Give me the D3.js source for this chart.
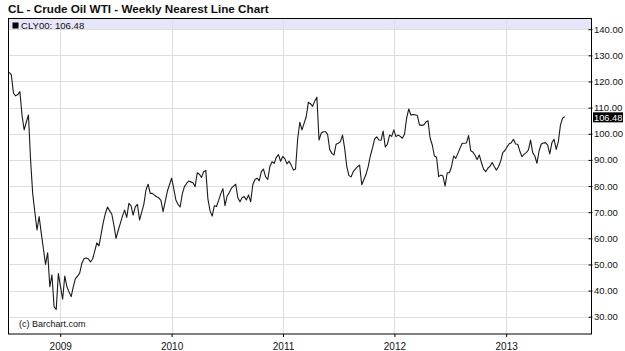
<!DOCTYPE html>
<html>
<head>
<meta charset="utf-8">
<script src="https://cdn.jsdelivr.net/npm/d3@7"></script>
<style>
  body { margin: 0; background: #fff; }
  text { font-family: "Liberation Sans", Arial, sans-serif; }
</style>
</head>
<body>
<div id="chart"></div>
<script>
// data
const symbol = "CLY00";
const lastClose = 106.48;
const firstWeek = "2008-07-18"; // weekly closes, one per friday from here
const closes = [
  123.5, 122.5, 115.5, 114.5, 115, 116.1, 107, 101.5, 104.5, 107.2,
  90, 77, 70, 63.2, 68.3, 62, 56, 50, 54.5, 41.5,
  46, 33.8, 32.8, 46.5, 41.5, 36.7, 45.6, 41.5, 39.5, 37.7,
  41.5, 44.7, 45.5, 46.8, 50.5, 52.2, 52.5, 52.2, 51, 52,
  55, 58.3, 57.1, 61.5, 66, 69.5, 72, 70.5, 69.3, 65,
  60, 63, 65.7, 68.5, 70.8, 68, 73.4, 72.5, 68.9, 72,
  73, 67, 70, 73, 78.5, 80.7, 77.2, 77.2, 76.5, 75.9,
  75.5, 74.5, 70.2, 74, 78, 80.5, 83, 79, 74.7, 73,
  72, 77, 79.8, 81, 81.9, 81.6, 81.3, 79.8, 85.1, 84.5,
  83.3, 85.5, 86, 75, 70.5, 68.5, 72.5, 72.2, 74.5, 77,
  79, 72.5, 76.2, 77.5, 79.2, 80, 80.7, 75.5, 74, 75.5,
  76, 74.7, 76.6, 74, 80.5, 82.5, 83, 82, 85.5, 86.5,
  83.5, 82.5, 87.5, 89.3, 88.7, 91, 92, 89.5, 91.3, 90.5,
  88.5, 89.5, 88, 86.1, 86.5, 98, 104.4, 101.5, 104, 106.5,
  112, 111.5, 110.5, 112.5, 114, 97.6, 100.2, 100.8, 100.8, 99.8,
  94, 92.5, 91.9, 96, 96.4, 97, 99.5, 94.4, 87.4, 84,
  83.5, 85.5, 86.5, 87.4, 88, 80.5, 82.5, 84.5, 87.4, 91.5,
  94.5, 98, 98.8, 97.6, 97.5, 101, 95, 96, 99.5, 99,
  101.5, 98.9, 99.5, 99, 98.3, 99.8, 106, 109.5, 107.2, 107.4,
  107.3, 107, 103.4, 103.2, 103.4, 104.5, 105, 98.3, 95.7, 91.5,
  91, 83.6, 84.2, 83.8, 80, 85.1, 85.1, 87.4, 91.5, 90.6,
  92.5, 94.5, 96.4, 96.4, 96.5, 99.3, 93.5, 93, 91.8, 90.2,
  91.9, 89, 86.5, 85.5, 86.8, 87.5, 89, 87.5, 86.1, 87.4,
  89.5, 92.8, 93.6, 95, 96.2, 96.6, 97.9, 96.1, 96, 93.3,
  91.2, 92.2, 92.8, 93.8, 97.6, 92.8, 91.5, 88.7, 93.5, 96.1,
  96.5, 96.6, 95.7, 92.3, 96.6, 97.9, 94, 97, 103.4, 106,
  106.48
];
const priceTicks = [30, 40, 50, 60, 70, 80, 90, 100, 110, 120, 130, 140];
const yearTicks = ["2009", "2010", "2011", "2012", "2013"];

//size
const width = 625;
const height = 351;
const plot = { left: 8, right: 591, top: 18.5, bottom: 334 };

const parse = d3.timeParse("%Y-%m-%d");
const start = parse(firstWeek);
const series = closes.map((v, i) => ({ date: d3.timeWeek.offset(start, i), value: v }));

//scales
const xScale = d3
  .scaleTime()
  .domain([new Date(2008, 6, 14), new Date(2013, 9, 6)])
  .range([plot.left, plot.right]);

const yScale = d3.scaleLinear().domain([23.4, 144.1]).range([plot.bottom, plot.top]);

const svg = d3
  .select("#chart")
  .append("svg")
  .attr("width", width)
  .attr("height", height);

// title
svg
  .append("text")
  .attr("x", 8)
  .attr("y", 12.5)
  .attr("font-size", 11.7)
  .attr("font-weight", "bold")
  .attr("fill", "#111")
  .text("CL - Crude Oil WTI - Weekly Nearest Line Chart");

// legend band
svg
  .append("rect")
  .attr("x", plot.left)
  .attr("y", plot.top)
  .attr("width", plot.right - plot.left)
  .attr("height", yScale(140) - plot.top)
  .attr("fill", "#e7e5fa");

// grid
svg
  .append("g")
  .attr("stroke", "#dedede")
  .attr("stroke-width", 1)
  .call((g) => {
    g.selectAll("line.h")
      .data(priceTicks)
      .join("line")
      .attr("class", "h")
      .attr("x1", plot.left)
      .attr("x2", plot.right)
      .attr("y1", (d) => Math.round(yScale(d)) + 0.5)
      .attr("y2", (d) => Math.round(yScale(d)) + 0.5);
    g.selectAll("line.v")
      .data(yearTicks)
      .join("line")
      .attr("class", "v")
      .attr("x1", (d) => Math.round(xScale(parse(d + "-01-01"))) + 0.5)
      .attr("x2", (d) => Math.round(xScale(parse(d + "-01-01"))) + 0.5)
      .attr("y1", plot.top)
      .attr("y2", plot.bottom);
  });

// legend
svg
  .append("rect")
  .attr("x", 12.5)
  .attr("y", 22.5)
  .attr("width", 6)
  .attr("height", 6)
  .attr("fill", "#000");
svg
  .append("text")
  .attr("x", 21)
  .attr("y", 28.5)
  .attr("font-size", 9.6)
  .attr("fill", "#111")
  .text(`${symbol}: ${lastClose.toFixed(2)}`);

// price line
svg
  .append("path")
  .datum(series)
  .attr("fill", "none")
  .attr("stroke", "#1a1a1a")
  .attr("stroke-width", 1.1)
  .attr("stroke-linejoin", "round")
  .attr(
    "d",
    d3
      .line()
      .x((d) => xScale(d.date))
      .y((d) => yScale(d.value))
  );

// watermark
svg
  .append("text")
  .attr("x", 19)
  .attr("y", 326.5)
  .attr("font-size", 9)
  .attr("fill", "#111")
  .text("(c) Barchart.com");

// frame
svg
  .append("rect")
  .attr("x", plot.left + 0.5)
  .attr("y", plot.top)
  .attr("width", plot.right - plot.left)
  .attr("height", plot.bottom - plot.top)
  .attr("fill", "none")
  .attr("stroke", "#000")
  .attr("stroke-width", 1);

// right axis
svg
  .append("g")
  .attr("transform", `translate(${plot.right + 0.5},0)`)
  .call(
    d3
      .axisRight(yScale)
      .tickValues(priceTicks)
      .tickSize(1)
      .tickPadding(1.5)
      .tickFormat(d3.format(".2f"))
  )
  .call((g) => {
    g.select(".domain").remove();
    g.selectAll("line").attr("x1", -3).attr("stroke", "#000");
    g.selectAll("text").attr("font-size", 9.5).attr("fill", "#111").attr("font-family", null);
  });

// last price tag
const tagY = yScale(lastClose);
svg
  .append("rect")
  .attr("x", 593)
  .attr("y", tagY - 4.5)
  .attr("width", 30)
  .attr("height", 10)
  .attr("fill", "#000");
svg
  .append("text")
  .attr("x", 594)
  .attr("y", tagY + 3.8)
  .attr("font-size", 9.3)
  .attr("fill", "#fff")
  .text(lastClose.toFixed(2));

// bottom axis
svg
  .append("g")
  .attr("transform", `translate(0,${plot.bottom})`)
  .call(
    d3
      .axisBottom(xScale)
      .tickValues(yearTicks.map((d) => parse(d + "-01-01")))
      .tickSize(3)
      .tickPadding(6)
      .tickFormat(d3.timeFormat("%Y"))
  )
  .call((g) => {
    g.select(".domain").remove();
    g.selectAll("line").attr("stroke", "#000");
    g.selectAll("text").attr("font-size", 10).attr("fill", "#111").attr("font-family", null);
  });
</script>
</body>
</html>
